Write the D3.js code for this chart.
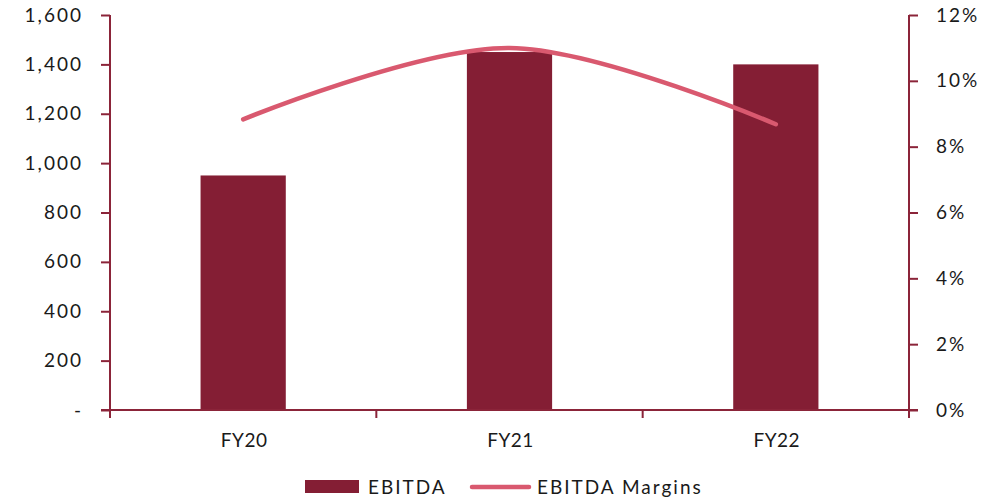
<!DOCTYPE html>
<html>
<head>
<meta charset="utf-8">
<script src="https://cdn.jsdelivr.net/npm/d3@7"></script>
<style>
  html, body { margin: 0; padding: 0; background: #fff; }
  svg text { font-family: Lato, "Open Sans", sans-serif; fill: #1a1a1a; letter-spacing: 2px; }
  svg text.cat { letter-spacing: 0.5px; }
</style>
</head>
<body>
<svg id="chart" width="1005" height="503"></svg>
<script>
// EBITDA (bars, left axis) and EBITDA margin (line, right axis)
const categories = ["FY20", "FY21", "FY22"];
const ebitda = [950, 1450, 1400];
const margins = [0.0883, 0.110, 0.0868];
const leftTicks = [0, 200, 400, 600, 800, 1000, 1200, 1400, 1600];
const rightTicks = [0, 0.02, 0.04, 0.06, 0.08, 0.10, 0.12];
const legendLabels = ["EBITDA", "EBITDA Margins"];

const barColor = "#841E34";
const lineColor = "#D9596F";
const axisColor = "#8B2439";

const svg = d3.select("#chart");
const m = { left: 110, right: 909, top: 15, bottom: 410 };

const x = d3.scaleBand().domain(categories).range([m.left, m.right]).paddingInner(0.68).paddingOuter(0.34);
const xCenter = d => x(d) + x.bandwidth() / 2;
const yL = d3.scaleLinear().domain([0, 1600]).range([m.bottom, m.top]);
const yR = d3.scaleLinear().domain([0, 0.12]).range([m.bottom, m.top]);

const fontSize = 19;

// Bars
svg.append("g").selectAll("rect").data(categories).join("rect")
  .attr("x", d => x(d))
  .attr("width", x.bandwidth())
  .attr("y", (d, i) => yL(ebitda[i]))
  .attr("height", (d, i) => yL(0) - yL(ebitda[i]))
  .attr("fill", barColor);

// Left axis
const leftAxis = d3.axisLeft(yL).tickValues(leftTicks).tickSize(9).tickPadding(18)
  .tickFormat(v => v === 0 ? "-" : d3.format(",")(v));
const gL = svg.append("g").attr("transform", `translate(${m.left},0)`).call(leftAxis);

// Right axis
const rightAxis = d3.axisRight(yR).tickValues(rightTicks).tickSize(9).tickPadding(18)
  .tickFormat(d3.format(".0%"));
const gR = svg.append("g").attr("transform", `translate(${m.right},0)`).call(rightAxis);

// Category axis with boundary ticks
const boundaries = d3.range(categories.length + 1).map(i => m.left + i * (m.right - m.left) / categories.length);
const gX = svg.append("g");
gX.append("line").attr("x1", m.left - 9).attr("x2", m.right + 9)
  .attr("y1", m.bottom).attr("y2", m.bottom);
gX.selectAll("line.b").data(boundaries).join("line").attr("class", "b")
  .attr("x1", d => d).attr("x2", d => d).attr("y1", m.bottom).attr("y2", m.bottom + 8);
gX.selectAll("text").data(categories).join("text").attr("class", "cat")
  .attr("x", d => xCenter(d) + 1).attr("y", 447)
  .attr("text-anchor", "middle").attr("font-size", fontSize).text(d => d);

[gL, gR].forEach(g => {
  g.select(".domain").remove();
  g.selectAll(".tick line").attr("stroke", axisColor).attr("stroke-width", 2);
  g.selectAll(".tick text").attr("font-size", fontSize).attr("fill", "#1a1a1a")
    .style("font-family", "Lato, 'Open Sans', sans-serif");
});
gX.selectAll("line").attr("stroke", axisColor).attr("stroke-width", 2);

// Vertical axis lines, extended slightly below the baseline
svg.append("line").attr("x1", m.left).attr("x2", m.left).attr("y1", m.top).attr("y2", m.bottom + 7)
  .attr("stroke", axisColor).attr("stroke-width", 2);
svg.append("line").attr("x1", m.right).attr("x2", m.right).attr("y1", m.top).attr("y2", m.bottom + 7)
  .attr("stroke", axisColor).attr("stroke-width", 2);

// Margin line, smoothed
const line = d3.line()
  .x((d, i) => xCenter(categories[i]))
  .y(d => yR(d))
  .curve(d3.curveCardinal.tension(0));
svg.append("path").datum(margins).attr("d", line)
  .attr("fill", "none").attr("stroke", lineColor).attr("stroke-width", 4.5)
  .attr("stroke-linecap", "round");

// Legend
const lg = svg.append("g");
lg.append("rect").attr("x", 305).attr("y", 480).attr("width", 54).attr("height", 13).attr("fill", barColor);
lg.append("text").attr("x", 368).attr("y", 494).attr("font-size", fontSize).text(legendLabels[0]);
lg.append("line").attr("x1", 472).attr("x2", 529).attr("y1", 487).attr("y2", 487)
  .attr("stroke", lineColor).attr("stroke-width", 4.5).attr("stroke-linecap", "round");
lg.append("text").attr("x", 537).attr("y", 494).attr("font-size", fontSize).text(legendLabels[1]);
</script>
</body>
</html>
